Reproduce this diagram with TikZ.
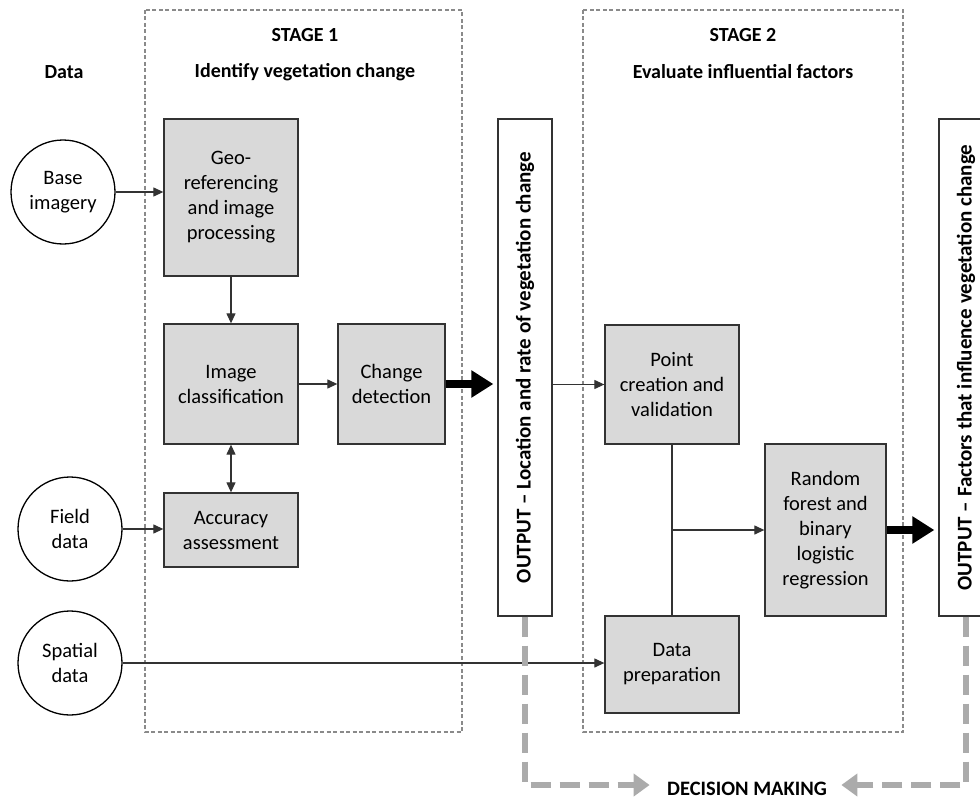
\documentclass[tikz,border=0pt]{standalone}
\usepackage{fontspec}
\setmainfont{Carlito}
\usetikzlibrary{arrows.meta}
\definecolor{boxfill}{HTML}{D9D9D9}
\definecolor{boxline}{HTML}{333333}
\definecolor{stagegray}{HTML}{8A8A8A}
\definecolor{decgray}{HTML}{ABABAB}

\begin{document}
\begin{tikzpicture}[x=1pt,y=-1pt,
  every node/.style={font=\fontsize{20.5}{25}\selectfont},
  proc/.style={draw=boxline,fill=boxfill,line width=1.3pt,align=center,inner sep=0pt},
  src/.style={draw=black,circle,line width=1.3pt,minimum size=104pt,align=center,inner sep=0pt},
  outbox/.style={draw=boxline,line width=1.3pt,minimum width=54pt,minimum height=497pt,inner sep=0pt},
  stagebox/.style={draw=stagegray,line width=1.1pt,dash pattern=on 4pt off 2.5pt},
  head/.style={font=\fontsize{20}{24}\selectfont\bfseries},
  outtext/.style={rotate=90,font=\fontsize{21}{25}\selectfont\bfseries},
  link/.style={draw=boxline,line width=1.2pt,-{Triangle[length=10pt,width=9pt]}},
  bigarrow/.style={line width=8pt,-{Triangle[length=22pt,width=26pt]},shorten >=4pt},
  decline/.style={draw=decgray,line width=6pt,line join=miter,dash pattern=on 20pt off 9pt,
    -{Triangle[length=16pt,width=22pt]}}]
  \useasboundingbox (0,0) rectangle (980,800);

  \draw[stagebox] (145,10) rectangle (462,732);
  \draw[stagebox] (583,10) rectangle (903,732);
  \node[head] (st1) at (305,35) {STAGE 1};
  \node[head] (st1t) at (305,72) {Identify vegetation change};
  \node[head] (st2) at (743,35) {STAGE 2};
  \node[head] (st2t) at (743,72) {Evaluate influential factors};
  \node[head] (data) at (64,72) {Data};

  \node[src] (base) at (63,192) {Base\\imagery};
  \node[src] (field) at (70,529) {Field\\data};
  \node[src] (spatial) at (70,663) {Spatial\\data};

  \node[proc,minimum width=134pt,minimum height=157pt] (geo) at (231,197.5) {Geo-\\referencing\\and image\\processing};
  \node[proc,minimum width=134pt,minimum height=120pt] (classif) at (231,384) {Image\\classification};
  \node[proc,minimum width=134pt,minimum height=74pt] (accur) at (231,530) {Accuracy\\assessment};
  \node[proc,minimum width=107pt,minimum height=120pt] (change) at (391.5,384) {Change\\detection};

  \node[outbox] (out1) at (525,367.5) {};
  \node[outtext] (out1txt) at (out1) {OUTPUT -- Location and rate of vegetation change};

  \node[proc,minimum width=134pt,minimum height=119pt] (point) at (672,384.5) {Point\\creation and\\validation};
  \node[proc,minimum width=134pt,minimum height=97pt] (prep) at (672,664.5) {Data\\preparation};
  \node[proc,minimum width=121pt,minimum height=172pt] (forest) at (825.5,530) {Random\\forest and\\binary\\logistic\\regression};

  \node[outbox] (out2) at (966,367.5) {};
  \node[outtext] (out2txt) at (out2) {OUTPUT -- Factors that influence vegetation change};

  \node[head,font=\fontsize{20.5}{24}\selectfont\bfseries] (dec) at (747,789) {DECISION MAKING};

  \draw[link] (base.east) -- (base.east -| geo.west);
  \draw[link] (geo.south) -- (classif.north);
  \draw[link] (classif.east) -- (change.west);
  \draw[link,{Triangle[length=10pt,width=9pt]}-{Triangle[length=10pt,width=9pt]}] (classif.south) -- (accur.north);
  \draw[link] (field.east) -- (field.east -| accur.west);
  \draw[link] (spatial.east) -- (spatial.east -| prep.west);
  \draw[link] (out1.east |- point.west) -- (point.west);
  \draw[draw=boxline,line width=1.2pt] (point.south) -- (prep.north);
  \coordinate (jn) at (point.south |- forest.west);
  \draw[link] (jn) -- (forest.west);

  \draw[bigarrow] (change.east) -- (change.east -| out1.west);
  \draw[bigarrow] (forest.east) -- (forest.east -| out2.west);

  \draw[decline] (out1.south) |- ([xshift=-14pt,yshift=4pt]dec.west);
  \draw[decline] (out2.south) |- ([xshift=11pt,yshift=4pt]dec.east);
\end{tikzpicture}
\end{document}
